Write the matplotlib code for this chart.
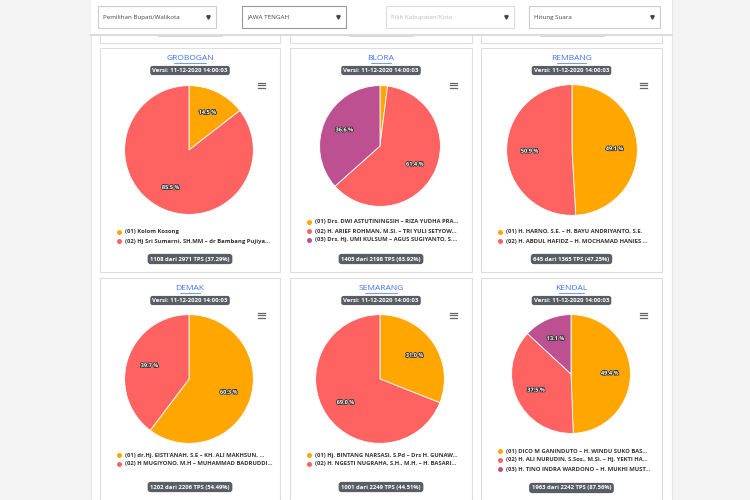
import matplotlib
matplotlib.use("Agg")
import matplotlib.pyplot as plt
import matplotlib.patheffects as pe
from matplotlib.patches import Rectangle

plt.rcParams['font.family'] = ['Open Sans', 'DejaVu Sans']

# Pie colours per candidate number
ORANGE, RED, PURPLE = '#ffa600', '#ff6361', '#bc5090'

# Region names
regions = ['GROBOGAN', 'BLORA', 'REMBANG', 'DEMAK', 'SEMARANG', 'KENDAL']

# Vote share (%) per candidate
grobogan_vals = [14.5, 85.5]
blora_vals = [2.0, 61.4, 36.6]
rembang_vals = [49.1, 50.9]
demak_vals = [60.3, 39.7]
semarang_vals = [31.0, 69.0]
kendal_vals = [49.4, 37.5, 13.1]

# Candidate legend entries
grobogan_names = ['(01) Kolom Kosong',
                  '(02) Hj Sri Sumarni, SH,MM – dr Bambang Pujiya...']
blora_names = ['(01) Drs. DWI ASTUTININGSIH – RIZA YUDHA PRA...',
               '(02) H. ARIEF ROHMAN, M.SI. – TRI YULI SETYOW...',
               '(03) Drs. Hj. UMI KULSUM – AGUS SUGIYANTO, S....']
rembang_names = ['(01) H. HARNO, S.E. – H. BAYU ANDRIYANTO, S.E.',
                 '(02) H. ABDUL HAFIDZ – H. MOCHAMAD HANIES ...']
demak_names = ["(01) dr.Hj. EISTI'ANAH, S.E – KH. ALI MAKHSUN, ...",
               '(02) H MUGIYONO, M.H – MUHAMMAD BADRUDDI...']
semarang_names = ['(01) Hj. BINTANG NARSASI, S.Pd – Drs H. GUNAW...',
                  '(02) H. NGESTI NUGRAHA, S.H., M.H. – H. BASARI...']
kendal_names = ['(01) DICO M GANINDUTO – H. WINDU SUKO BAS...',
                '(02) H. ALI NURUDIN, S.Sos., M.Si. – Hj. YEKTI HA...',
                '(03) H. TINO INDRA WARDONO – H. MUKHI MUST...']

# Footer: TPS counted
tps_done = [1108, 1405, 645, 1202, 1001, 1963]
tps_total = [2971, 2198, 1365, 2206, 2249, 2242]

version = 'Versi: 11-12-2020 14:00:03'

all_vals = [grobogan_vals, blora_vals, rembang_vals, demak_vals, semarang_vals, kendal_vals]
all_names = [grobogan_names, blora_names, rembang_names, demak_names, semarang_names, kendal_names]
palette = [ORANGE, RED, PURPLE]

W, H = 750, 500
fig = plt.figure(figsize=(7.5, 5), dpi=100)
fig.patch.set_facecolor('#f4f4f4')

bg = fig.add_axes([0, 0, 1, 1])
bg.set_xlim(0, W)
bg.set_ylim(H, 0)
bg.axis('off')

# main container
bg.add_patch(Rectangle((91, 0), 581, 500, fc='white', ec='#e6e6e6', lw=0.8))

# cards of the previous row (cut off at top)
card_x = [(100, 280), (290, 472), (481, 662)]
for x0, x1 in card_x:
    bg.add_patch(Rectangle((x0, -10), x1 - x0, 53, fc='white', ec='#dddddd', lw=0.8))
    bg.plot([(x0 + x1) / 2 - 32, (x0 + x1) / 2 + 32], [34, 34], color='#555a60', lw=2.5,
            solid_capstyle='round')

# top filter bar
bg.add_patch(Rectangle((91, 0), 581, 34, fc='white', ec='none', zorder=3))
bg.plot([91, 672], [34.5, 34.5], color='#dcdcdc', lw=1.5, zorder=3)
dropdowns = [(98, 216, 'Pemilihan Bupati/Walikota', '#444444', '#cccccc'),
             (242, 346, 'JAWA TENGAH', '#444444', '#999999'),
             (386, 514, 'Pilih Kabupaten/Kota', '#bbbbbb', '#dddddd'),
             (529, 660, 'Hitung Suara', '#444444', '#cccccc')]
for x0, x1, lab, tc, ec in dropdowns:
    bg.add_patch(Rectangle((x0, 6), x1 - x0, 22, fc='white', ec=ec, lw=0.8, zorder=4))
    bg.text(x0 + 5, 17, lab, fontsize=4.5, color=tc, va='center', zorder=5)
    bg.plot([x1 - 8], [17], marker='v', ms=2.5, color='#444444', zorder=5)

# pie geometry in pixels: centre x, centre y, radius
card_y = [(48, 272), (278, 510)]
pie_geom = [(189, 150, 65), (380, 146, 61), (572, 150, 66),
            (189, 379, 65), (380, 379, 65), (571, 374, 60)]
legend_y0 = [232, 222, 232, 455, 455, 451]
footer_y = [259, 259, 259, 487, 487, 488]


def pct_label(p):
    return f'{p:.1f} %' if p >= 3 else ''


for i, region in enumerate(regions):
    row, col = divmod(i, 3)
    x0, x1 = card_x[col]
    y0, y1 = card_y[row]
    xc = (x0 + x1) / 2
    bg.add_patch(Rectangle((x0, y0), x1 - x0, y1 - y0, fc='white', ec='#dddddd', lw=0.8))

    # title + version badge
    bg.text(xc, y0 + 10.5, region, fontsize=6, color='#3d6ff0', ha='center', va='center')
    tw = len(region) * 4.1
    bg.plot([xc - tw / 2, xc + tw / 2], [y0 + 15, y0 + 15], color='#3d6ff0', lw=0.5)
    bg.text(xc, y0 + 22.5, version, fontsize=4.3, color='white', fontweight='bold',
            ha='center', va='center',
            bbox=dict(boxstyle='round,pad=0.35,rounding_size=0.4', fc='#595e64', ec='none'))

    # hamburger icon
    for dy in (-2.5, 0, 2.5):
        bg.plot([x1 - 22, x1 - 15], [y0 + 37 + dy, y0 + 37 + dy], color='#666666', lw=0.9)

    # pie
    cx, cy, r = pie_geom[i]
    ax = fig.add_axes([(cx - r) / W, 1 - (cy + r) / H, 2 * r / W, 2 * r / H])
    vals = all_vals[i]
    _, _, autotexts = ax.pie(vals, colors=palette[:len(vals)], startangle=90, counterclock=False,
                             autopct=pct_label, pctdistance=0.65,
                             wedgeprops=dict(edgecolor='white', linewidth=0.6))
    for at in autotexts:
        at.set_fontsize(4)
        at.set_fontweight('bold')
        at.set_color('white')
        at.set_path_effects([pe.withStroke(linewidth=1.2, foreground='#333333')])
    ax.set_xlim(-1.01, 1.01)
    ax.set_ylim(-1.01, 1.01)

    # legend
    for k, name in enumerate(all_names[i]):
        yy = legend_y0[i] + k * 9
        bg.plot([x0 + 19], [yy], marker='o', ms=3.6, color=palette[k], mec='none')
        bg.text(x0 + 25, yy, name, fontsize=4.2, fontweight='bold', color='#333333', va='center')

    # footer badge
    pct = tps_done[i] / tps_total[i] * 100
    bg.text(xc, footer_y[i], f'{tps_done[i]} dari {tps_total[i]} TPS ({pct:.2f}%)', fontsize=4.2,
            color='white', fontweight='bold', ha='center', va='center',
            bbox=dict(boxstyle='round,pad=0.45,rounding_size=0.5', fc='#595e64', ec='none'))

fig.savefig('out.png', dpi=100)
